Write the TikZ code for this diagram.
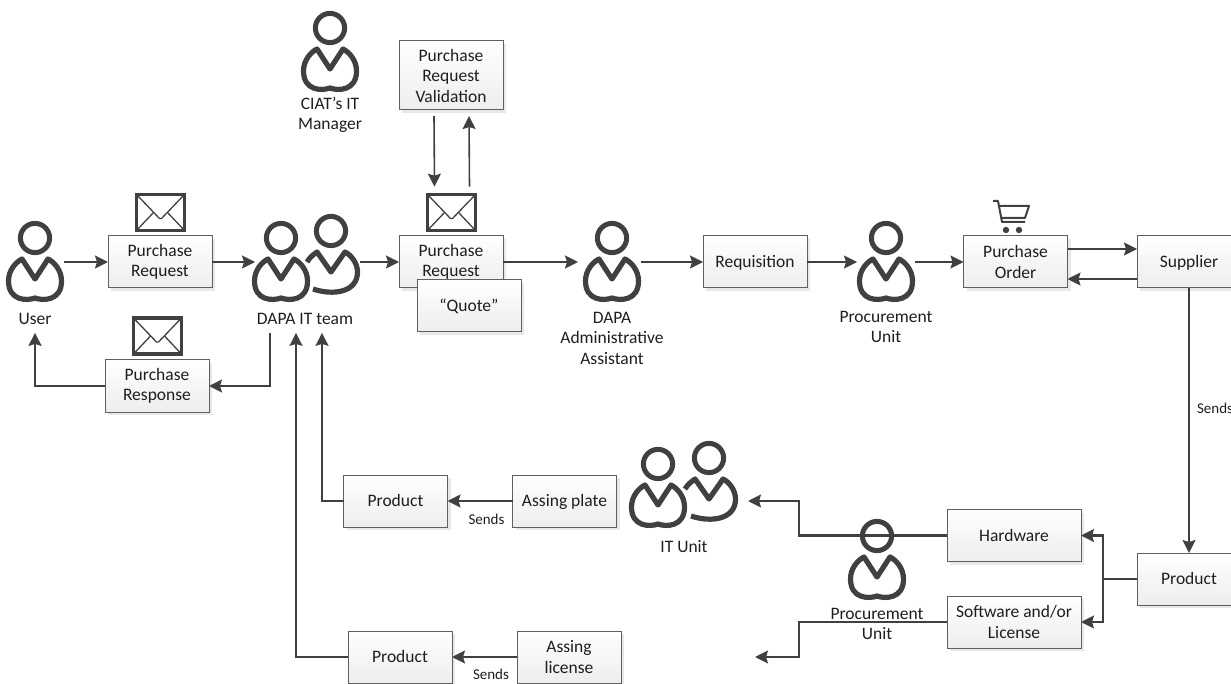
\documentclass[tikz,border=0pt]{standalone}
\usepackage{fontspec}
\setmainfont{Carlito}
\usetikzlibrary{arrows.meta,shadows}
\definecolor{inkgray}{HTML}{404040}
\definecolor{edgegray}{HTML}{606060}
\definecolor{textgray}{HTML}{1E1E1E}
\tikzstyle{procbox}=[draw=edgegray, line width=1pt, minimum width=104pt, minimum height=52pt, inner sep=0pt, outer sep=0pt, top color=white, bottom color=black!7, align=center, text=textgray, font=\fontsize{17.5}{20.5}\selectfont, drop shadow={shadow xshift=3pt, shadow yshift=-3pt, fill=black, opacity=0.09}]
\tikzstyle{oneline}=[text height=11pt, text depth=0pt]
\tikzstyle{personbox}=[minimum width=58pt, minimum height=80pt, inner sep=0pt, outer sep=0pt]
\tikzstyle{lbl}=[align=center, text=textgray, inner sep=0pt, font=\fontsize{17.5}{20.5}\selectfont]
\tikzstyle{smalllbl}=[text=textgray, inner sep=0pt, font=\fontsize{15}{17}\selectfont]
\tikzstyle{flow}=[draw=inkgray, line width=1.6pt, -{Stealth[length=13pt,width=13pt,inset=2pt]}]
\tikzstyle{heavy}=[draw=inkgray, line width=2.1pt, -{Stealth[length=13pt,width=13pt,inset=2pt]}]
\tikzstyle{mailbox}=[draw=inkgray, line width=3.6pt, minimum width=48pt, minimum height=36pt, inner sep=0pt, outer sep=1.8pt, path picture={
	\draw[inkgray, line width=1.3pt] (path picture bounding box.north west) -- ++(23pt,-24pt) -- ++(2pt,0pt) -- (path picture bounding box.north east);
	\draw[inkgray, line width=1.3pt] (path picture bounding box.south west) -- ++(17pt,18pt);
	\draw[inkgray, line width=1.3pt] (path picture bounding box.south east) -- ++(-17pt,18pt);
}]
\tikzset{
	person/.pic={
		\draw[inkgray, line width=5pt] (0,-24) circle (14.6pt);
		\draw[inkgray, line width=5.2pt, line join=round] (0,36) .. controls (-8,39) and (-26.5,39) .. (-26.5,19) .. controls (-26.5,8) and (-19,0) .. (-13,-3) -- (0,17) -- (13,-3) .. controls (19,0) and (26.5,8) .. (26.5,19) .. controls (26.5,39) and (8,39) .. (0,36) -- cycle;
	},
	persontwo/.pic={
		\draw[inkgray, line width=5pt] (0,-24) circle (14.6pt);
		\draw[inkgray, line width=5.2pt, line join=round] (-24,7) .. controls (-21,2) and (-18,0) .. (-14,-3) -- (0,17) -- (14,-3) .. controls (20,0) and (26.5,8) .. (26.5,17) .. controls (26.5,37) and (3,41) .. (-18,34);
	},
	cart/.pic={
		\draw[inkgray, line width=2pt, line join=round] (-18,-16) -- (-13,-16) -- (-9,5) -- (14,5);
		\draw[inkgray, line width=2pt, line join=round] (-12,-11) -- (18,-11) -- (14,1) -- (-10,1);
		\fill[inkgray] (-5,13) circle (3.2pt) (8,13) circle (3.2pt);
	}
}
\begin{document}
\begin{tikzpicture}[x=1pt, y=-1pt]
	\path[use as bounding box, clip] (0,0) rectangle (1231,684);
	\node[personbox] (user) at (35,262) {};
	\node[personbox] (teamfront) at (281,262) {};
	\node[personbox] (teamback) at (331,255) {};
	\node[personbox] (manager) at (330,52) {};
	\node[personbox] (assistant) at (612,262) {};
	\node[personbox] (procone) at (886,262) {};
	\node[personbox] (itfront) at (658,488) {};
	\node[personbox] (itback) at (709,482) {};
	\node[personbox] (proctwo) at (877,560) {};
	\node[lbl] (userlbl) at (35,319) {User};
	\node[lbl] (teamlbl) at (305,319) {DAPA IT team};
	\node[lbl] (managerlbl) at (330,115) {CIAT’s IT\\Manager};
	\node[lbl] (assistantlbl) at (612,338) {DAPA\\Administrative\\Assistant};
	\node[lbl] (proconelbl) at (886,327) {Procurement\\Unit};
	\node[lbl] (itlbl) at (684,547) {IT Unit};
	\node[lbl] (proctwolbl) at (877,624) {Procurement\\Unit};
	\node[procbox] (request) at (160,262) {Purchase\\Request};
	\node[procbox] (response) at (157,386) {Purchase\\Response};
	\node[procbox, minimum height=69pt] (validation) at (451,75.5) {Purchase\\Request\\Validation};
	\node[procbox] (requesttwo) at (451,262) {Purchase\\Request};
	\node[procbox, oneline] (quote) at (469,306) {“Quote”};
	\node[procbox, oneline] (requisition) at (755,262) {Requisition};
	\node[procbox] (order) at (1015.5,262) {Purchase\\Order};
	\node[procbox, oneline] (supplier) at (1189,262) {Supplier};
	\node[procbox, oneline] (productsup) at (1189,579) {Product};
	\node[procbox, oneline, minimum width=134pt] (hardware) at (1014,535.5) {Hardware};
	\node[procbox, minimum width=134pt] (software) at (1014,622) {Software and/or\\License};
	\node[procbox, oneline] (plate) at (564.5,501) {Assing plate};
	\node[procbox, oneline] (productplate) at (395.5,501) {Product};
	\node[procbox] (license) at (569,657) {Assing\\license};
	\node[procbox, oneline] (productlic) at (400,657) {Product};
	\node[mailbox] (mailone) at (160.5,212.5) {};
	\node[mailbox] (mailtwo) at (157.5,336) {};
	\node[mailbox] (mailthree) at (451.5,212.5) {};
	\node[smalllbl] (sendsright) at (1215,408) {Sends};
	\node[smalllbl] (sendsplate) at (486.5,519) {Sends};
	\node[smalllbl] (sendslic) at (491,674.5) {Sends};
	\coordinate (hwturn) at (799,535.5);
	\coordinate (hwend) at (748,501);
	\coordinate (swturn) at (799,622);
	\coordinate (swend) at (755,657);
	\coordinate (bus) at (1103,579);
	\draw[flow] (user.east) -- (request.west);
	\draw[flow] (request.east) -- ([xshift=3pt]teamfront.west);
	\draw[flow] (teamback.east |- requesttwo.west) -- (requesttwo.west);
	\draw[flow] (requesttwo.east) -- ([xshift=-5pt]assistant.west);
	\draw[flow] (assistant.east) -- (requisition.west);
	\draw[flow] (requisition.east) -- (procone.west);
	\draw[flow] (procone.east) -- (order.west);
	\draw[flow] ([yshift=13pt]order.east) -- ([yshift=13pt]supplier.west);
	\draw[heavy] ([yshift=-17pt]supplier.west) -- ([yshift=-17pt]order.east);
	\draw[heavy] (supplier.south) -- (productsup.north);
	\draw[flow] ([xshift=-17pt,yshift=-6pt]validation.south) -- ([xshift=-17pt,yshift=6pt]mailthree.north);
	\draw[flow] ([xshift=18pt,yshift=6pt]mailthree.north) -- ([xshift=18pt,yshift=-6pt]validation.south);
	\draw[heavy] ([xshift=-35pt,yshift=-8pt]teamlbl.south) |- (response.east);
	\draw[heavy] (response.west) -| ([yshift=-8pt]userlbl.south);
	\draw[heavy] (productsup.west) -- (bus) |- (hardware.east);
	\draw[heavy] (bus) |- (software.east);
	\draw[heavy] (hardware.west) -- (hwturn) |- (hwend);
	\draw[heavy] (software.west) -- (swturn) |- (swend);
	\draw[heavy] (plate.west) -- (productplate.east);
	\draw[heavy] (license.west) -- (productlic.east);
	\draw[flow] (productplate.west) -| ([xshift=17pt,yshift=-8pt]teamlbl.south);
	\draw[flow] (productlic.west) -| ([xshift=-9pt,yshift=-8pt]teamlbl.south);
	\pic at (user) {person};
	\pic at (teamfront) {person};
	\pic at (teamback) {persontwo};
	\pic at (manager) {person};
	\pic at (assistant) {person};
	\pic at (procone) {person};
	\pic at (itfront) {person};
	\pic at (itback) {persontwo};
	\pic at (proctwo) {person};
	\pic at (1011,217) {cart};
\end{tikzpicture}
\end{document}
